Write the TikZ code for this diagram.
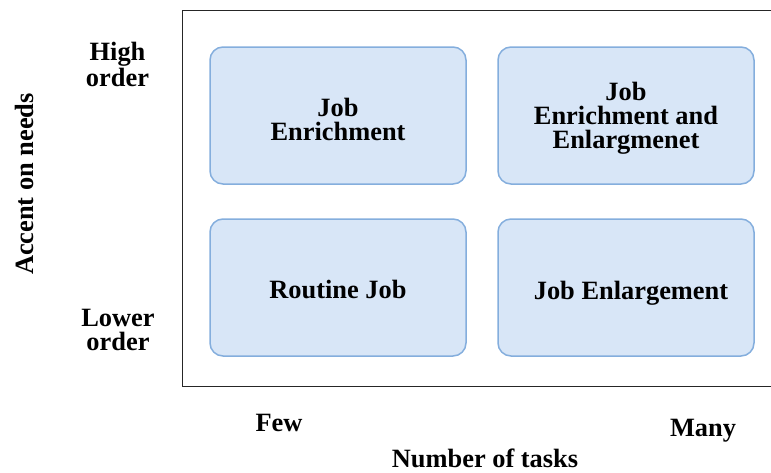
\documentclass[tikz,border=0pt]{standalone}
\usepackage{fontspec}
\setmainfont{Liberation Serif}
\definecolor{boxfill}{HTML}{D8E6F7}
\definecolor{boxline}{HTML}{84AEDD}
\begin{document}
\begin{tikzpicture}[x=1pt,y=-1pt,
  txt/.style={align=center, inner sep=0pt,
    font=\bfseries\fontsize{26.4}{24}\selectfont},
  quad/.style={draw=boxline, fill=boxfill, line width=1.5pt,
    rounded corners=13pt, minimum width=256pt, minimum height=137pt},
  caption/.style n args={3}{label={[txt, xshift=#1, yshift=#2]center:#3}}]
\useasboundingbox (0,0) rectangle (771,472);

% frame of the matrix (open to the right)
\draw[line width=1.4pt, draw=black!85] (771,10.5) -- (182.5,10.5) -- (182.5,386.5) -- (771,386.5);

% quadrants
\node[quad, caption={0pt}{-4pt}{Job\\Enrichment}] (enrich) at (338,115.5) {};
\node[quad, caption={0pt}{-3pt}{Job\\Enrichment and\\Enlargmenet}] (both) at (626,115.5) {};
\node[quad, caption={0pt}{-1.5pt}{Routine Job}] (routine) at (338,287.5) {};
\node[quad, caption={5pt}{-6pt}{Job Enlargement}] (enlarge) at (626,287.5) {};

% axis labels
\node[txt] (high)  at (117.5,64.5) {High\\order};
\node[txt] (low)   at (118,330)    {Lower\\order};
\node[txt, rotate=90] (needs) at (24,184) {Accent on needs};
\node[txt] (few)   at (279,422.5)  {Few};
\node[txt] (many)  at (703,431)    {Many};
\node[txt] (tasks) at (485,458.5)  {Number of tasks};
\end{tikzpicture}
\end{document}
